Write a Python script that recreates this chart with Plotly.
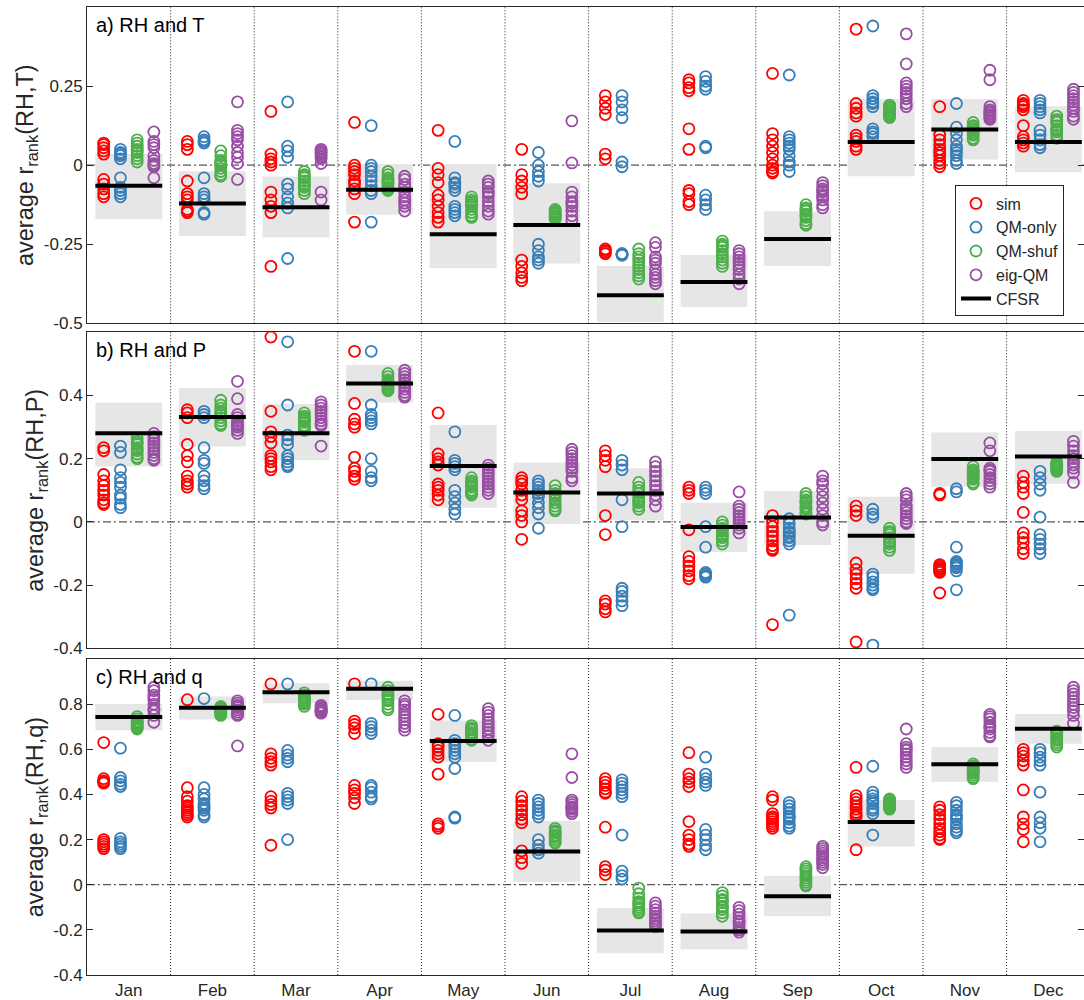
import plotly.graph_objects as go

months = ["Jan", "Feb", "Mar", "Apr", "May", "Jun", "Jul", "Aug", "Sep", "Oct", "Nov", "Dec"]
series_names = ["sim", "QM-only", "QM-shuf", "eig-QM"]
series_colors = ["#FF0000", "#377EB8", "#4DAF4A", "#984EA3"]
series_offsets = [-0.3, -0.1, 0.1, 0.3]

# ---------------- a) RH and T ----------------
T_sim = [
    [0.07, 0.065, 0.055, 0.045, 0.035, -0.045, -0.06, -0.075, -0.09, -0.1],
    [0.075, 0.065, 0.05, -0.05, -0.09, -0.1, -0.11, -0.14, -0.15, -0.145],
    [0.17, 0.035, 0.02, 0.01, 0.0, -0.085, -0.11, -0.13, -0.15, -0.32],
    [0.135, 0.0, -0.01, -0.02, -0.03, -0.05, -0.06, -0.075, -0.09, -0.18],
    [0.11, -0.01, -0.03, -0.055, -0.095, -0.11, -0.13, -0.15, -0.165, -0.18],
    [0.05, -0.03, -0.05, -0.07, -0.09, -0.3, -0.32, -0.34, -0.355, -0.365],
    [0.22, 0.2, 0.18, 0.16, 0.035, 0.02, -0.265, -0.27, -0.28, -0.275],
    [0.27, 0.26, 0.245, 0.235, 0.115, 0.05, -0.08, -0.09, -0.115, -0.125],
    [0.29, 0.1, 0.08, 0.06, 0.04, 0.02, 0.0, -0.01, -0.02, -0.025],
    [0.43, 0.195, 0.18, 0.165, 0.155, 0.095, 0.085, 0.075, 0.06, 0.05],
    [0.185, 0.095, 0.08, 0.065, 0.05, 0.04, 0.03, 0.015, 0.005, -0.005],
    [0.205, 0.195, 0.185, 0.175, 0.125, 0.09, 0.08, 0.07, 0.06, 0.19],
]
T_qm = [
    [0.05, 0.04, 0.03, 0.02, -0.04, -0.07, -0.08, -0.09, -0.1, 0.035],
    [0.09, 0.08, 0.07, -0.04, -0.09, -0.1, -0.11, -0.15, -0.155, 0.075],
    [0.2, 0.06, 0.045, 0.025, -0.06, -0.075, -0.1, -0.12, -0.135, -0.295],
    [0.125, 0.0, -0.01, -0.02, -0.035, -0.05, -0.065, -0.08, -0.09, -0.18],
    [0.075, -0.04, -0.055, -0.07, -0.08, -0.13, -0.14, -0.15, -0.16, -0.06],
    [0.04, 0.0, -0.02, -0.035, -0.05, -0.25, -0.27, -0.29, -0.3, -0.31],
    [0.22, 0.2, 0.175, 0.15, 0.01, -0.005, -0.28, -0.285, -0.28, -0.283],
    [0.28, 0.265, 0.25, 0.24, 0.06, 0.055, -0.095, -0.11, -0.125, -0.14],
    [0.285, 0.09, 0.08, 0.07, 0.05, 0.03, 0.01, 0.0, -0.02, 0.06],
    [0.44, 0.22, 0.21, 0.2, 0.185, 0.115, 0.1, 0.09, 0.105, 0.195],
    [0.195, 0.12, 0.1, 0.08, 0.06, 0.05, 0.04, 0.03, 0.015, 0.005],
    [0.205, 0.195, 0.185, 0.175, 0.165, 0.11, 0.095, 0.08, 0.065, 0.055],
]
T_shuf = [
    [0.08, 0.07, 0.06, 0.05, 0.04, 0.03, 0.02, 0.01, 0.06, 0.045],
    [0.045, 0.03, 0.015, 0.005, 0.0, -0.01, -0.02, -0.03, -0.035, 0.01],
    [-0.02, -0.03, -0.04, -0.05, -0.06, -0.07, -0.08, -0.09, -0.035, -0.065],
    [-0.02, -0.03, -0.04, -0.045, -0.05, -0.055, -0.06, -0.07, -0.075, -0.08],
    [-0.1, -0.11, -0.12, -0.13, -0.14, -0.15, -0.16, -0.165, -0.125, -0.115],
    [-0.14, -0.15, -0.155, -0.16, -0.165, -0.17, -0.145, -0.16, -0.15, -0.17],
    [-0.265, -0.28, -0.3, -0.32, -0.33, -0.34, -0.35, -0.36, -0.31, -0.29],
    [-0.24, -0.25, -0.26, -0.27, -0.28, -0.29, -0.3, -0.31, -0.32, -0.255],
    [-0.125, -0.135, -0.145, -0.155, -0.165, -0.175, -0.185, -0.19, -0.14, -0.16],
    [0.19, 0.18, 0.17, 0.16, 0.15, 0.175, 0.165, 0.155, 0.185, 0.16],
    [0.135, 0.125, 0.115, 0.105, 0.095, 0.085, 0.08, 0.11, 0.1, 0.12],
    [0.155, 0.145, 0.135, 0.125, 0.115, 0.105, 0.095, 0.085, 0.14, 0.11],
]
T_eig = [
    [0.105, 0.075, 0.065, 0.055, 0.03, 0.015, 0.005, -0.005, -0.04, 0.0],
    [0.2, 0.11, 0.1, 0.09, 0.08, 0.06, 0.04, 0.025, 0.005, -0.045],
    [0.05, 0.045, 0.04, 0.035, 0.03, 0.025, 0.02, 0.005, -0.085, -0.11],
    [-0.035, -0.045, -0.06, -0.07, -0.085, -0.1, -0.11, -0.12, -0.13, -0.145],
    [-0.05, -0.06, -0.07, -0.085, -0.1, -0.115, -0.13, -0.145, -0.155, -0.09],
    [0.14, 0.007, -0.085, -0.1, -0.115, -0.13, -0.145, -0.16, -0.175, -0.12],
    [-0.245, -0.26, -0.29, -0.31, -0.33, -0.345, -0.355, -0.365, -0.375, -0.3],
    [-0.27, -0.28, -0.3, -0.31, -0.32, -0.33, -0.345, -0.36, -0.375, -0.29],
    [-0.055, -0.065, -0.075, -0.085, -0.095, -0.11, -0.125, -0.135, -0.08, -0.1],
    [0.415, 0.32, 0.26, 0.25, 0.24, 0.23, 0.22, 0.21, 0.195, 0.185],
    [0.3, 0.27, 0.185, 0.175, 0.165, 0.16, 0.155, 0.145, 0.15, 0.17],
    [0.24, 0.23, 0.22, 0.21, 0.2, 0.19, 0.18, 0.17, 0.155, 0.145],
]
T_cfsr = [-0.065, -0.121, -0.133, -0.078, -0.218, -0.189, -0.411, -0.369, -0.233, 0.073, 0.113, 0.073]
T_low = [-0.171, -0.224, -0.229, -0.157, -0.326, -0.311, -0.496, -0.448, -0.319, -0.035, 0.018, -0.022]
T_high = [0.036, -0.019, -0.036, 0.004, 0.004, -0.057, -0.319, -0.284, -0.146, 0.209, 0.209, 0.186]

# ---------------- b) RH and P ----------------
P_sim = [
    [0.235, 0.225, 0.15, 0.13, 0.115, 0.1, 0.085, 0.07, 0.06, 0.055],
    [0.355, 0.345, 0.33, 0.245, 0.21, 0.19, 0.145, 0.13, 0.12, 0.11],
    [0.585, 0.35, 0.285, 0.27, 0.25, 0.21, 0.2, 0.19, 0.175, 0.165],
    [0.54, 0.375, 0.325, 0.31, 0.3, 0.205, 0.17, 0.16, 0.145, 0.135],
    [0.345, 0.215, 0.2, 0.19, 0.18, 0.12, 0.11, 0.1, 0.085, 0.07],
    [0.14, 0.13, 0.12, 0.1, 0.085, 0.07, 0.035, 0.02, 0.0, -0.055],
    [0.225, 0.21, 0.195, 0.175, 0.02, -0.04, -0.25, -0.26, -0.275, -0.285],
    [0.11, 0.1, 0.09, -0.025, -0.11, -0.125, -0.14, -0.155, -0.17, -0.18],
    [0.02, 0.0, -0.015, -0.03, -0.045, -0.06, -0.075, -0.085, -0.09, -0.325],
    [0.05, 0.035, 0.02, -0.13, -0.15, -0.165, -0.18, -0.195, -0.21, -0.38],
    [0.09, 0.085, -0.135, -0.14, -0.15, -0.155, -0.16, -0.15, -0.145, -0.225],
    [0.145, 0.125, 0.11, 0.09, 0.03, -0.035, -0.05, -0.065, -0.085, -0.1],
]
P_qm = [
    [0.24, 0.22, 0.165, 0.14, 0.125, 0.11, 0.085, 0.075, 0.055, 0.045],
    [0.35, 0.34, 0.33, 0.235, 0.195, 0.185, 0.145, 0.13, 0.115, 0.105],
    [0.57, 0.37, 0.275, 0.26, 0.245, 0.21, 0.2, 0.19, 0.18, 0.175],
    [0.54, 0.37, 0.34, 0.33, 0.32, 0.31, 0.2, 0.16, 0.14, 0.13],
    [0.285, 0.195, 0.185, 0.175, 0.165, 0.1, 0.08, 0.06, 0.04, 0.025],
    [0.13, 0.12, 0.11, 0.1, 0.09, 0.08, 0.06, 0.045, 0.025, -0.02],
    [0.195, 0.18, 0.165, 0.07, -0.015, -0.21, -0.22, -0.235, -0.25, -0.265],
    [0.11, 0.1, 0.09, -0.015, -0.08, -0.16, -0.165, -0.17, -0.175, -0.165],
    [0.01, -0.005, -0.02, -0.035, -0.05, -0.06, -0.07, -0.03, -0.045, -0.295],
    [0.04, 0.025, 0.015, -0.165, -0.175, -0.19, -0.2, -0.21, -0.215, -0.39],
    [0.105, 0.095, -0.08, -0.125, -0.135, -0.145, -0.155, -0.14, -0.13, -0.215],
    [0.16, 0.14, 0.12, 0.1, 0.015, -0.04, -0.055, -0.07, -0.085, -0.1],
]
P_shuf = [
    [0.265, 0.255, 0.245, 0.235, 0.225, 0.215, 0.205, 0.2, 0.25, 0.23],
    [0.385, 0.37, 0.36, 0.35, 0.34, 0.33, 0.32, 0.31, 0.305, 0.345],
    [0.345, 0.335, 0.325, 0.315, 0.305, 0.295, 0.29, 0.33, 0.32, 0.3],
    [0.47, 0.46, 0.45, 0.44, 0.435, 0.43, 0.425, 0.42, 0.415, 0.445],
    [0.14, 0.13, 0.12, 0.11, 0.1, 0.09, 0.085, 0.125, 0.115, 0.095],
    [0.115, 0.1, 0.09, 0.08, 0.07, 0.06, 0.05, 0.04, 0.035, 0.085],
    [0.125, 0.11, 0.1, 0.09, 0.08, 0.07, 0.06, 0.05, 0.04, 0.065],
    [0.0, -0.01, -0.02, -0.03, -0.04, -0.05, -0.06, -0.07, -0.045, -0.025],
    [0.09, 0.08, 0.07, 0.06, 0.05, 0.04, 0.03, 0.025, 0.065, 0.045],
    [-0.02, -0.03, -0.04, -0.05, -0.06, -0.07, -0.08, -0.09, -0.035, -0.065],
    [0.175, 0.165, 0.155, 0.145, 0.14, 0.135, 0.125, 0.12, 0.15, 0.16],
    [0.19, 0.185, 0.18, 0.175, 0.17, 0.165, 0.16, 0.18, 0.175, 0.17],
]
P_eig = [
    [0.28, 0.27, 0.26, 0.24, 0.23, 0.22, 0.21, 0.2, 0.195, 0.25],
    [0.445, 0.39, 0.34, 0.33, 0.32, 0.31, 0.3, 0.29, 0.28, 0.305],
    [0.38, 0.37, 0.36, 0.35, 0.34, 0.33, 0.32, 0.31, 0.305, 0.24],
    [0.48, 0.47, 0.46, 0.45, 0.44, 0.43, 0.42, 0.41, 0.4, 0.395],
    [0.18, 0.17, 0.16, 0.15, 0.14, 0.13, 0.12, 0.11, 0.1, 0.09],
    [0.23, 0.22, 0.21, 0.2, 0.19, 0.18, 0.17, 0.16, 0.14, 0.13],
    [0.19, 0.175, 0.16, 0.145, 0.13, 0.115, 0.1, 0.085, 0.07, 0.05],
    [0.095, 0.05, 0.04, 0.03, 0.02, 0.01, 0.0, -0.01, -0.02, -0.035],
    [0.145, 0.13, 0.12, 0.1, 0.08, 0.06, 0.04, 0.02, 0.0, -0.01],
    [0.09, 0.08, 0.07, 0.05, 0.04, 0.03, 0.02, 0.01, 0.0, -0.005],
    [0.25, 0.225, 0.17, 0.16, 0.15, 0.14, 0.13, 0.12, 0.11, 0.165],
    [0.255, 0.24, 0.225, 0.21, 0.2, 0.19, 0.18, 0.17, 0.155, 0.125],
]
P_cfsr = [0.281, 0.332, 0.281, 0.438, 0.177, 0.093, 0.09, -0.016, 0.014, -0.044, 0.199, 0.207]
P_low = [0.175, 0.239, 0.195, 0.378, 0.045, -0.007, 0.005, -0.095, -0.073, -0.164, 0.111, 0.121]
P_high = [0.378, 0.424, 0.373, 0.497, 0.307, 0.188, 0.17, 0.061, 0.098, 0.08, 0.283, 0.288]

# ---------------- c) RH and q ----------------
Q_sim = [
    [0.63, 0.47, 0.46, 0.455, 0.45, 0.2, 0.19, 0.18, 0.17, 0.16],
    [0.82, 0.43, 0.39, 0.37, 0.35, 0.34, 0.33, 0.32, 0.31, 0.3],
    [0.89, 0.58, 0.56, 0.545, 0.53, 0.39, 0.37, 0.355, 0.34, 0.175],
    [0.89, 0.725, 0.71, 0.695, 0.67, 0.44, 0.42, 0.405, 0.385, 0.36],
    [0.755, 0.625, 0.61, 0.595, 0.58, 0.565, 0.49, 0.27, 0.26, 0.25],
    [0.39, 0.37, 0.35, 0.33, 0.31, 0.29, 0.275, 0.15, 0.12, 0.095],
    [0.47, 0.455, 0.44, 0.425, 0.41, 0.405, 0.255, 0.08, 0.065, 0.045],
    [0.585, 0.49, 0.47, 0.455, 0.435, 0.28, 0.22, 0.2, 0.18, 0.17],
    [0.39, 0.375, 0.315, 0.3, 0.29, 0.28, 0.27, 0.26, 0.25, 0.3],
    [0.52, 0.395, 0.38, 0.365, 0.35, 0.335, 0.32, 0.31, 0.3, 0.155],
    [0.345, 0.33, 0.31, 0.29, 0.27, 0.25, 0.235, 0.22, 0.205, 0.2],
    [0.6, 0.585, 0.57, 0.55, 0.53, 0.42, 0.3, 0.27, 0.245, 0.19],
]
Q_qm = [
    [0.605, 0.475, 0.46, 0.445, 0.435, 0.205, 0.19, 0.18, 0.17, 0.16],
    [0.825, 0.43, 0.4, 0.38, 0.36, 0.35, 0.34, 0.33, 0.31, 0.3],
    [0.89, 0.595, 0.575, 0.56, 0.545, 0.405, 0.39, 0.375, 0.36, 0.2],
    [0.89, 0.715, 0.7, 0.685, 0.67, 0.44, 0.43, 0.41, 0.39, 0.38],
    [0.75, 0.64, 0.625, 0.61, 0.595, 0.58, 0.565, 0.515, 0.3, 0.295],
    [0.375, 0.36, 0.345, 0.33, 0.315, 0.3, 0.2, 0.175, 0.155, 0.14],
    [0.465, 0.45, 0.435, 0.42, 0.405, 0.39, 0.22, 0.06, 0.04, 0.025],
    [0.565, 0.49, 0.47, 0.455, 0.44, 0.245, 0.22, 0.2, 0.175, 0.155],
    [0.365, 0.35, 0.335, 0.32, 0.305, 0.29, 0.275, 0.26, 0.25, 0.3],
    [0.525, 0.41, 0.395, 0.38, 0.36, 0.34, 0.33, 0.315, 0.22, 0.37],
    [0.365, 0.35, 0.33, 0.31, 0.29, 0.27, 0.255, 0.24, 0.23, 0.3],
    [0.6, 0.585, 0.565, 0.55, 0.53, 0.41, 0.3, 0.275, 0.25, 0.19],
]
Q_shuf = [
    [0.745, 0.735, 0.725, 0.715, 0.705, 0.695, 0.69, 0.72, 0.71, 0.7],
    [0.79, 0.78, 0.77, 0.76, 0.75, 0.785, 0.775, 0.765, 0.755, 0.77],
    [0.85, 0.84, 0.83, 0.82, 0.81, 0.8, 0.79, 0.815, 0.805, 0.825],
    [0.875, 0.86, 0.845, 0.83, 0.815, 0.8, 0.785, 0.775, 0.84, 0.82],
    [0.705, 0.695, 0.685, 0.675, 0.665, 0.655, 0.645, 0.64, 0.69, 0.67],
    [0.25, 0.24, 0.23, 0.22, 0.21, 0.2, 0.19, 0.185, 0.235, 0.215],
    [-0.015, -0.04, -0.06, -0.075, -0.09, -0.1, -0.11, -0.12, -0.125, -0.08],
    [-0.035, -0.05, -0.065, -0.08, -0.095, -0.11, -0.125, -0.14, -0.1, -0.07],
    [0.08, 0.07, 0.06, 0.05, 0.04, 0.03, 0.02, 0.01, 0.0, -0.005],
    [0.38, 0.37, 0.36, 0.35, 0.34, 0.335, 0.375, 0.365, 0.355, 0.345],
    [0.535, 0.525, 0.515, 0.505, 0.495, 0.485, 0.475, 0.47, 0.51, 0.5],
    [0.68, 0.67, 0.66, 0.65, 0.64, 0.63, 0.62, 0.61, 0.675, 0.645],
]
Q_eig = [
    [0.875, 0.86, 0.84, 0.82, 0.8, 0.78, 0.77, 0.75, 0.72, 0.83],
    [0.815, 0.805, 0.795, 0.785, 0.775, 0.765, 0.755, 0.75, 0.79, 0.615],
    [0.795, 0.785, 0.775, 0.765, 0.76, 0.78, 0.77, 0.79, 0.765, 0.775],
    [0.815, 0.8, 0.79, 0.775, 0.76, 0.745, 0.73, 0.715, 0.7, 0.685],
    [0.78, 0.765, 0.75, 0.735, 0.72, 0.705, 0.69, 0.675, 0.66, 0.64],
    [0.58, 0.475, 0.375, 0.365, 0.355, 0.345, 0.335, 0.325, 0.315, 0.34],
    [-0.08, -0.095, -0.11, -0.125, -0.14, -0.15, -0.16, -0.17, -0.18, -0.185],
    [-0.1, -0.115, -0.13, -0.145, -0.16, -0.175, -0.19, -0.2, -0.21, -0.165],
    [0.17, 0.16, 0.15, 0.14, 0.13, 0.12, 0.11, 0.1, 0.09, 0.075],
    [0.69, 0.625, 0.61, 0.595, 0.58, 0.565, 0.55, 0.535, 0.52, 0.6],
    [0.755, 0.745, 0.735, 0.72, 0.705, 0.69, 0.675, 0.66, 0.655, 0.7],
    [0.875, 0.86, 0.845, 0.83, 0.815, 0.8, 0.785, 0.77, 0.75, 0.715],
]
Q_cfsr = [0.743, 0.784, 0.853, 0.868, 0.637, 0.147, -0.203, -0.207, -0.051, 0.278, 0.534, 0.691]
Q_low = [0.684, 0.732, 0.804, 0.819, 0.544, 0.012, -0.304, -0.287, -0.14, 0.169, 0.456, 0.625]
Q_high = [0.801, 0.834, 0.893, 0.904, 0.728, 0.284, -0.103, -0.128, 0.04, 0.375, 0.61, 0.757]

panel_titles = ["a) RH and T", "b) RH and P", "c) RH and q"]
panel_ylabels = ["average r<sub>rank</sub>(RH,T)", "average r<sub>rank</sub>(RH,P)",
                 "average r<sub>rank</sub>(RH,q)"]
panel_ranges = [[-0.5, 0.5], [-0.4, 0.6], [-0.4, 1.0]]
panel_ticks = [[-0.5, -0.25, 0, 0.25], [-0.4, -0.2, 0, 0.2, 0.4],
               [-0.4, -0.2, 0, 0.2, 0.4, 0.6, 0.8]]
panel_ticktext = [["-0.5", "-0.25", "0", "0.25"], ["-0.4", "-0.2", "0", "0.2", "0.4"],
                  ["-0.4", "-0.2", "0", "0.2", "0.4", "0.6", "0.8"]]
panel_domains = [[0.6732, 1.0], [0.3375, 0.6639], [0.0, 0.3264]]

panels = [
    ([T_sim, T_qm, T_shuf, T_eig], T_cfsr, T_low, T_high),
    ([P_sim, P_qm, P_shuf, P_eig], P_cfsr, P_low, P_high),
    ([Q_sim, Q_qm, Q_shuf, Q_eig], Q_cfsr, Q_low, Q_high),
]

FONT = "Liberation Sans, Arial, Helvetica, sans-serif"
TXT = "#262626"
HALF_W = 0.4

fig = go.Figure()
shapes = []
annotations = []

for p, (ens, cfsr, low, high) in enumerate(panels):
    xa = "x" if p == 0 else f"x{p + 1}"
    ya = "y" if p == 0 else f"y{p + 1}"

    # CFSR range boxes
    for m in range(12):
        shapes.append(dict(type="rect", xref=xa, yref=ya, layer="below",
                           x0=m + 1 - HALF_W, x1=m + 1 + HALF_W, y0=low[m], y1=high[m],
                           fillcolor="#E6E6E6", line=dict(width=0)))
    # month separators
    for m in range(11):
        shapes.append(dict(type="line", xref=xa, yref=f"{ya} domain", layer="below",
                           x0=m + 1.5, x1=m + 1.5, y0=0, y1=1,
                           line=dict(color="#222222", width=1, dash="1px,2px")))
    # zero line
    shapes.append(dict(type="line", xref=f"{xa} domain", yref=ya, layer="below",
                       x0=0, x1=1, y0=0, y1=0,
                       line=dict(color="#555555", width=1.3, dash="8px,3px,2px,3px")))

    # ensemble members
    for s in range(4):
        xs, ys = [], []
        for m in range(12):
            for v in ens[s][m]:
                xs.append(m + 1 + series_offsets[s])
                ys.append(v)
        fig.add_trace(go.Scatter(
            x=xs, y=ys, mode="markers", name=series_names[s],
            legendgroup=series_names[s], showlegend=(p == 0),
            marker=dict(symbol="circle-open", size=11, color=series_colors[s],
                        line=dict(width=1.8, color=series_colors[s])),
            xaxis=xa, yaxis=ya, hoverinfo="skip"))

    # CFSR reference lines
    lx, ly = [], []
    for m in range(12):
        lx += [m + 1 - HALF_W, m + 1 + HALF_W, None]
        ly += [cfsr[m], cfsr[m], None]
    fig.add_trace(go.Scatter(x=lx, y=ly, mode="lines", name="CFSR", legendgroup="CFSR",
                             showlegend=(p == 0), line=dict(color="black", width=4),
                             xaxis=xa, yaxis=ya, hoverinfo="skip"))

    annotations.append(dict(text=panel_titles[p], xref=f"{xa} domain", yref=f"{ya} domain",
                            x=0.007, y=0.985, xanchor="left", yanchor="top", showarrow=False,
                            font=dict(size=20, color="black", family=FONT)))

layout = dict(
    width=1084, height=1000,
    margin=dict(l=87, r=0, t=7, b=25),
    paper_bgcolor="white", plot_bgcolor="white",
    font=dict(family=FONT, color=TXT, size=17),
    shapes=shapes, annotations=annotations,
    legend=dict(x=0.8706, y=0.8156, xanchor="left", yanchor="top",
                bgcolor="white", bordercolor="#262626", borderwidth=1,
                font=dict(size=16, color=TXT, family=FONT),
                itemwidth=30, tracegroupgap=0),
)

for p in range(3):
    xk = "xaxis" if p == 0 else f"xaxis{p + 1}"
    yk = "yaxis" if p == 0 else f"yaxis{p + 1}"
    layout[xk] = dict(
        domain=[0, 1], range=[0.5, 12.426], anchor="y" if p == 0 else f"y{p + 1}",
        tickvals=list(range(1, 13)), ticktext=months, showticklabels=(p == 2),
        ticks="", showgrid=False, zeroline=False,
        showline=True, linecolor="#262626", linewidth=1, mirror=True,
        tickfont=dict(size=17, color=TXT),
        matches="x" if p > 0 else None,
    )
    layout[yk] = dict(
        domain=panel_domains[p], range=panel_ranges[p], anchor="x" if p == 0 else f"x{p + 1}",
        tickvals=panel_ticks[p], ticktext=panel_ticktext[p],
        ticks="inside", ticklen=6, tickcolor="#262626", showgrid=False, zeroline=False,
        showline=True, linecolor="#262626", linewidth=1, mirror="ticks",
        tickfont=dict(size=17, color=TXT),
        title=dict(text=panel_ylabels[p], font=dict(size=23.5, color=TXT), standoff=3),
    )

fig.update_layout(**layout)
fig.write_html("out.html")
